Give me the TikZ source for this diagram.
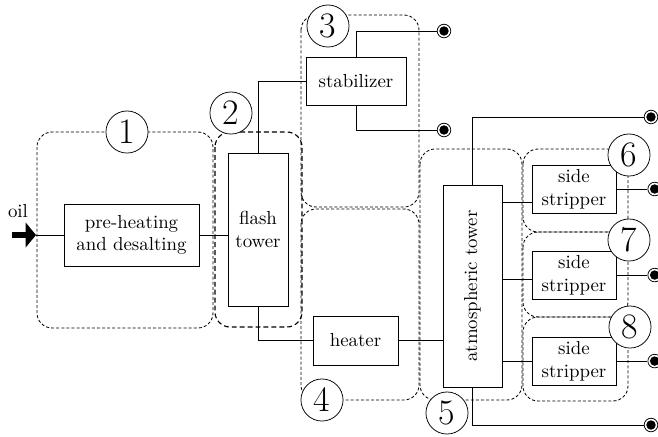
\documentclass[tikz,border=0pt]{standalone}
\usepackage{tikz}
\usetikzlibrary{positioning,arrows.meta,calc}

\begin{document}
\begin{tikzpicture}[
x=0.53pt, y=-0.53pt,
node distance=19.8pt,
box/.style={draw, align=center, inner sep=2pt},
grp/.style={draw, dash pattern=on 1.6pt off 1.1pt, line width=0.45pt, rounded corners=8pt},
grpthick/.style={draw, dash pattern=on 2.6pt off 1.6pt, line width=0.6pt, rounded corners=8pt},
num/.style={circle, draw, fill=white, minimum size=22.3pt, inner sep=0pt,
  font=\fontsize{19}{20}\selectfont},
term/.style={circle, draw, fill=white, inner sep=0pt, minimum size=7.2pt,
  path picture={\fill[black] (path picture bounding box.center) circle (2.5pt);}},
>=Latex
]

\useasboundingbox (0,0) rectangle (658,436);

% dashed groups
\draw[grp] (37,132) rectangle (213,328);
\draw[grpthick] (215,132) rectangle (302,327);
\draw[grp] (301,15) rectangle (419,207);
\draw[grp] (301,209) rectangle (419,400);
\draw[grp] (420,149) rectangle (522,400);
\draw[grp] (523,149) rectangle (628,232);
\draw[grp] (523,232) rectangle (628,317);
\draw[grp] (523,317) rectangle (628,401);

% units
\node[box, minimum width=71.6pt, minimum height=32.9pt] (pre) at (131.5,235)
{pre-heating\\and desalting};
\node[box, minimum width=31.8pt, minimum height=81.1pt] (flash) at (258,229.5)
{flash\\tower};
\node[box, minimum width=53pt, minimum height=25.4pt] (stab) at (356,81)
{stabilizer};
\node[box, minimum width=45pt, minimum height=26pt] (heater) at (355.5,340.5)
{heater};
\node[box, minimum width=31.3pt, minimum height=107pt] (atm) at (472.5,286)
{\rotatebox{90}{atmospheric tower}};

\node[box, minimum width=44.5pt, minimum height=25.4pt] (s1) at (574,189)
{side\\stripper};
\node[box, minimum width=44.5pt, minimum height=25.4pt] (s2) [below=of s1]
{side\\stripper};
\node[box, minimum width=44.5pt, minimum height=25.4pt] (s3) [below=of s2]
{side\\stripper};

% products
\node[term] (t1) at (444,31) {};
\node[term] (t2) at (444,130) {};
\node[term] (t3) at (651,117) {};
\node[term] (t4) [right=16.5pt of s1] {};
\node[term] (t5) [right=16.5pt of s2] {};
\node[term] (t6) [right=16.5pt of s3] {};
\node[term] (t7) at (651,425) {};

% feed
\coordinate (oil) at (12,235);
\coordinate (feed) at (36,235);
\node (oiltext) at (18,211) {oil};
\draw[line width=3.7pt, -{Triangle[length=5.5pt,width=13pt]}] (oil) -- (feed);
\draw (feed) -- (pre.west);

% streams
\draw (pre.east) -- (pre.east -| flash.west);
\draw (flash.north) |- (stab.west);
\draw (stab.north) |- (t1);
\draw (stab.south) |- (t2);
\draw (flash.south) |- (heater.west);
\draw (heater.east) -- (heater.east -| atm.west);
\draw (atm.north) |- (t3);
\draw (atm.south) |- (t7);
\coordinate (c1) at ($(s1.west)+(0,13)$);
\coordinate (c2) at ($(s2.west)+(0,4)$);
\draw (c1) -- (c1 -| atm.east);
\draw (c2) -- (c2 -| atm.east);
\draw (s3.west) -- (s3.west -| atm.east);
\draw (s1.east) -- (t4);
\draw (s2.east) -- (t5);
\draw (s3.east) -- (t6);

% group numbers
\node[num] (n1) at (127,132) {1};
\node[num] (n2) at (231,113) {2};
\node[num] (n3) at (328,26) {3};
\node[num] (n4) at (322,400) {4};
\node[num] (n5) at (447,413) {5};
\node[num] (n6) at (629,155) {6};
\node[num] (n7) at (629,240) {7};
\node[num] (n8) at (630,327) {8};

\end{tikzpicture}
\end{document}
